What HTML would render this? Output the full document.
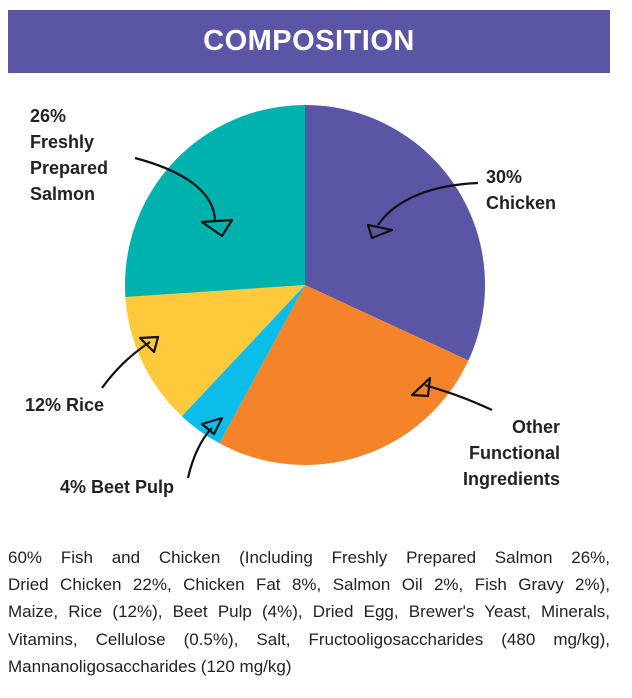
<!DOCTYPE html>
<html><head><meta charset="utf-8"><style>
body{margin:0;width:632px;height:698px;background:#fff;font-family:"Liberation Sans",sans-serif;position:relative;overflow:hidden}
.hdr{position:absolute;left:8px;top:10px;width:602px;height:63px;background:#5a55a5;color:#fff;font-size:29px;font-weight:bold;text-align:center;line-height:63px;letter-spacing:0.5px}
.lbl{position:absolute;font-size:18px;font-weight:bold;color:#222;line-height:26px}
.txt{position:absolute;left:8px;top:544px;width:602px;font-size:17px;line-height:27.2px;color:#222}
.txt div{text-align:justify;text-align-last:justify;white-space:nowrap}
.txt div.l{text-align-last:left}
</style></head><body>
<div class="hdr">COMPOSITION</div>
<svg width="632" height="698" style="position:absolute;left:0;top:0">
<path d="M305,285 L305,105 A180,180 0 0 1 468.4,360.5 Z" fill="#5a55a5"/>
<path d="M305,285 L468.4,360.5 A180,180 0 0 1 219.4,443.3 Z" fill="#f5832a"/>
<path d="M305,285 L219.4,443.3 A180,180 0 0 1 181.8,416.2 Z" fill="#0bbde8"/>
<path d="M305,285 L181.8,416.2 A180,180 0 0 1 125.4,297 Z" fill="#fec93a"/>
<path d="M305,285 L125.4,297 A180,180 0 0 1 305,105 Z" fill="#00b2ad"/>
<g fill="none" stroke="#111" stroke-width="2.2" stroke-linejoin="round">
<path d="M135,158 C180,170 215,190 215,222"/>
<path d="M202,222 L232,220 L222,236 Z"/>
<path d="M478,183 C430,185 395,200 378,225"/>
<path d="M368,225 L392,230 L372,238 Z"/>
<path d="M492,410 C460,395 440,390 425,385"/>
<path d="M412,395 L430,378 L428,396 Z"/>
<path d="M102,388 C115,370 130,355 150,342"/>
<path d="M140,338 L158,337 L154,352 Z"/>
<path d="M188,478 C192,460 200,440 212,428"/>
<path d="M202,424 L222,418 L214,434 Z"/>
</g>
</svg>
<div class="lbl" style="left:30px;top:103px">26%<br>Freshly<br>Prepared<br>Salmon</div>
<div class="lbl" style="left:486px;top:164px">30%<br>Chicken</div>
<div class="lbl" style="left:460px;top:414px;text-align:right;width:100px">Other<br>Functional<br>Ingredients</div>
<div class="lbl" style="left:25px;top:392px">12% Rice</div>
<div class="lbl" style="left:60px;top:474px">4% Beet Pulp</div>
<div class="txt">
<div>60% Fish and Chicken (Including Freshly Prepared Salmon 26%,</div>
<div>Dried Chicken 22%, Chicken Fat 8%, Salmon Oil 2%, Fish Gravy 2%),</div>
<div>Maize, Rice (12%), Beet Pulp (4%), Dried Egg, Brewer's Yeast, Minerals,</div>
<div>Vitamins, Cellulose (0.5%), Salt, Fructooligosaccharides (480 mg/kg),</div>
<div class="l">Mannanoligosaccharides (120 mg/kg)</div>
</div>
</body></html>
